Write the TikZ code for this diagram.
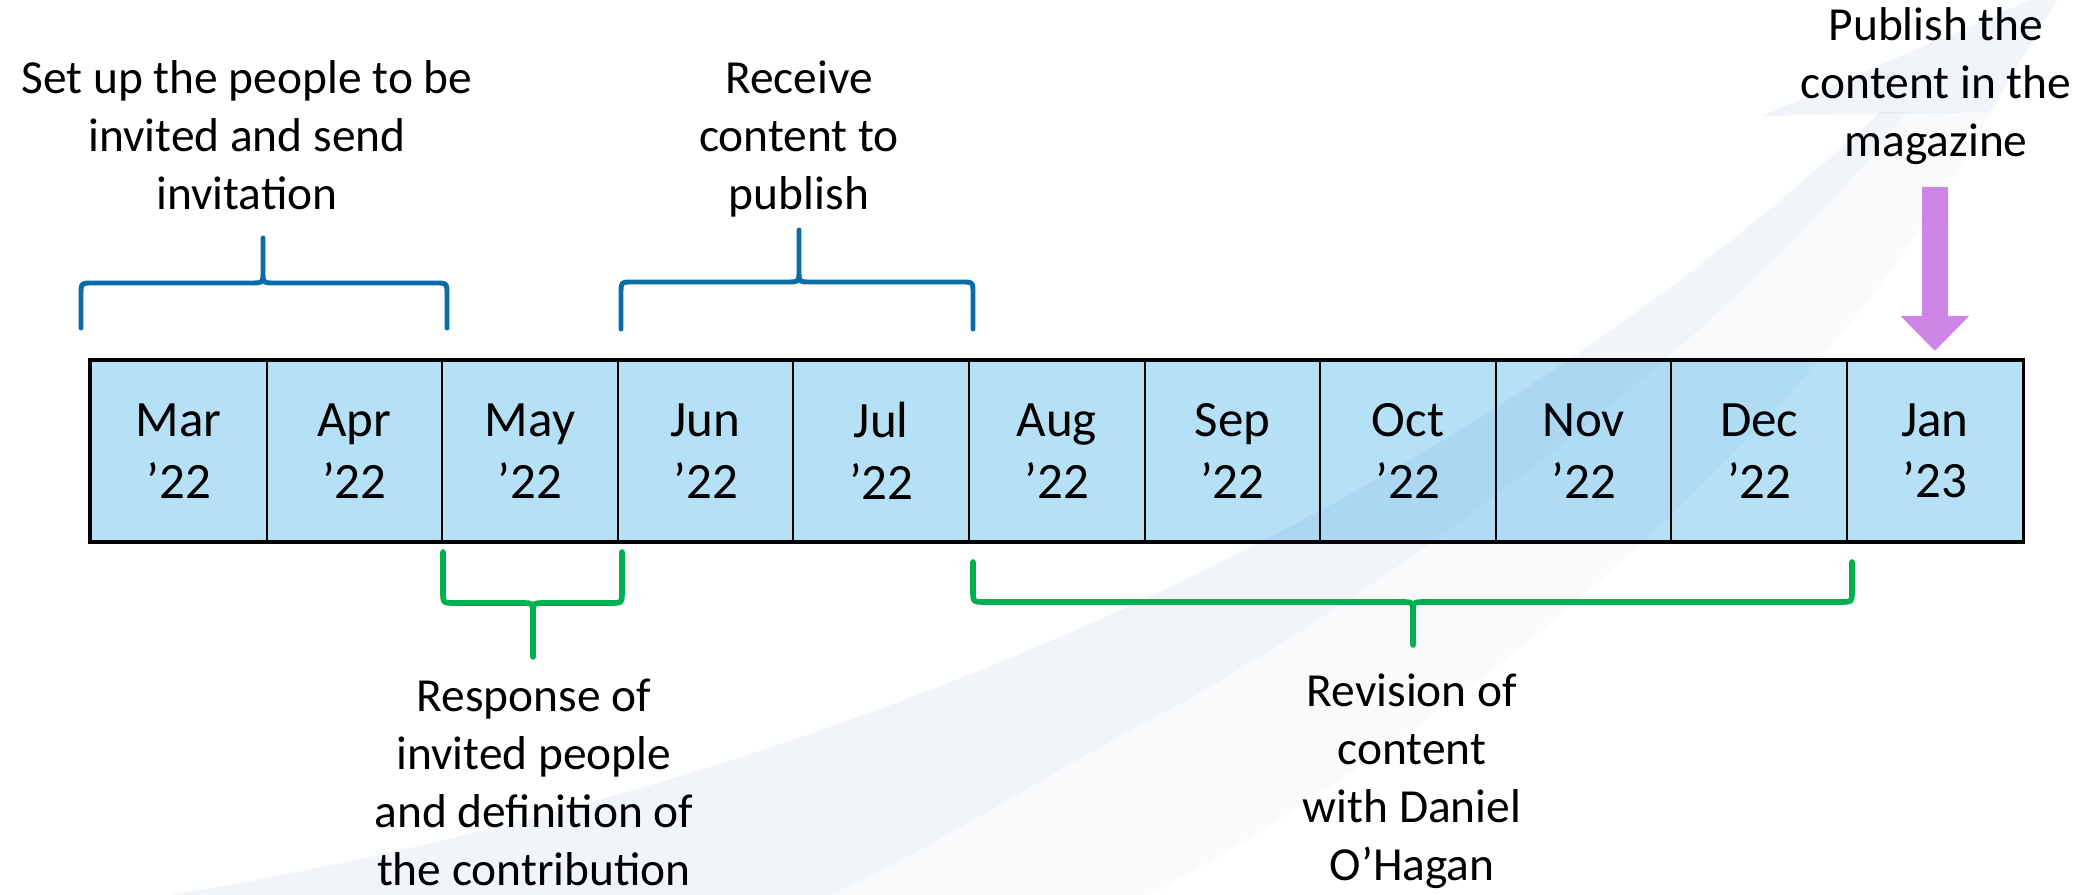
\documentclass[tikz,border=0pt]{standalone}
\usepackage{fontspec}
\setmainfont{Carlito}
\usepackage{xcolor}
\usetikzlibrary{arrows.meta}
\definecolor{cellblue}{HTML}{B5E0F6}
\definecolor{bracketblue}{HTML}{0A6BA5}
\definecolor{bracketgreen}{HTML}{00B050}
\definecolor{pubpurple}{HTML}{CD86E5}
\definecolor{swoosh}{HTML}{1450AA}

\begin{document}
\begin{tikzpicture}[x=0.1mm, y=-0.1mm,
  month/.style={draw, fill=cellblue, line width=0.6pt, minimum width=17.56mm, minimum height=18mm, inner sep=0pt, align=center, font=\fontsize{14.5}{17.5}\selectfont},
  tasktext/.style={align=center, inner sep=0pt, font=\fontsize{13.5}{16.5}\selectfont},
  topbrace/.style={draw=bracketblue, line width=1.4pt, line cap=round},
  botbrace/.style={draw=bracketgreen, line width=1.6pt, line cap=round},
  pubarrow/.style={draw=pubpurple, line width=7.4pt, -{Triangle[width=19pt, length=10pt]}, shorten >=0.9mm}]
\useasboundingbox (0,0) rectangle (2095,895);

% months
\node[month] (mar) at (178.8,451) {Mar\\’22};
\node[month] (apr) at (354.4,451) {Apr\\’22};
\node[month] (may) at (530.0,451) {May\\’22};
\node[month] (jun) at (705.6,451) {Jun\\’22};
\node[month] (jul) at (881.2,451) {Jul\\’22};
\node[month] (aug) at (1056.8,451) {Aug\\’22};
\node[month] (sep) at (1232.4,451) {Sep\\’22};
\node[month] (oct) at (1408.0,451) {Oct\\’22};
\node[month] (nov) at (1583.6,451) {Nov\\’22};
\node[month] (dec) at (1759.2,451) {Dec\\’22};
\node[month] (jan) at (1934.8,451) {Jan\\’23};
\draw[line width=0.9pt] (mar.north west) rectangle (jan.south east);

% background swoosh
\begin{scope}
\clip (0,0) rectangle (2095,895);
\fill[swoosh, fill opacity=0.06] (170,895) .. controls (750,800) and (1400,560) .. (1880,112)
  -- (1905,112) .. controls (1800,260) and (1500,520) .. (1187,700)
  .. controls (1050,770) and (950,840) .. (830,895) -- cycle;
\fill[swoosh, fill opacity=0.06] (1762,116) -- (2042,-5) -- (2060,-5) -- (1990,112) -- cycle;
\fill[swoosh, fill opacity=0.03] (1905,112) -- (1990,112) .. controls (1900,300) and (1600,650) .. (1150,895)
  -- (830,895) .. controls (950,840) and (1050,770) .. (1187,700)
  .. controls (1500,520) and (1800,260) .. (1905,112) -- cycle;
\end{scope}

% tasks
\node[tasktext] (setup) at (247,135) {Set up the people to be\\invited and send\\invitation};
\node[tasktext] (receive) at (799,139) {Receive\\content to\\publish};
\node[tasktext] (publish) at (1936,86) {Publish the\\content in the\\magazine};
\node[tasktext] (response) at (534,782) {Response of\\invited people\\and definition of\\the contribution};
\node[tasktext] (revision) at (1412,781) {Revision of\\content\\with Daniel\\O’Hagan};

% brackets
\draw[topbrace] (81,328) -- (81,295) .. controls (81,283) .. (93,283) -- (251,283) .. controls (263,283) .. (263,271) -- (263,238)
  (263,271) .. controls (263,283) .. (275,283) -- (435,283) .. controls (447,283) .. (447,295) -- (447,328);
\draw[topbrace] (621,329) -- (621,294) .. controls (621,282) .. (633,282) -- (787,282) .. controls (799,282) .. (799,270) -- (799,230)
  (799,270) .. controls (799,282) .. (811,282) -- (961,282) .. controls (973,282) .. (973,294) -- (973,329);
\draw[botbrace] (443,552) -- (443,591) .. controls (443,603) .. (455,603) -- (521,603) .. controls (533,603) .. (533,615) -- (533,657)
  (533,615) .. controls (533,603) .. (545,603) -- (610,603) .. controls (622,603) .. (622,591) -- (622,552);
\draw[botbrace] (973,562) -- (973,590) .. controls (973,602) .. (985,602) -- (1401,602) .. controls (1413,602) .. (1413,614) -- (1413,645)
  (1413,614) .. controls (1413,602) .. (1425,602) -- (1840,602) .. controls (1852,602) .. (1852,590) -- (1852,562);

% publish arrow
\coordinate (pubtop) at (1935,187);
\draw[pubarrow] (pubtop) -- (jan.north);
\end{tikzpicture}
\end{document}
